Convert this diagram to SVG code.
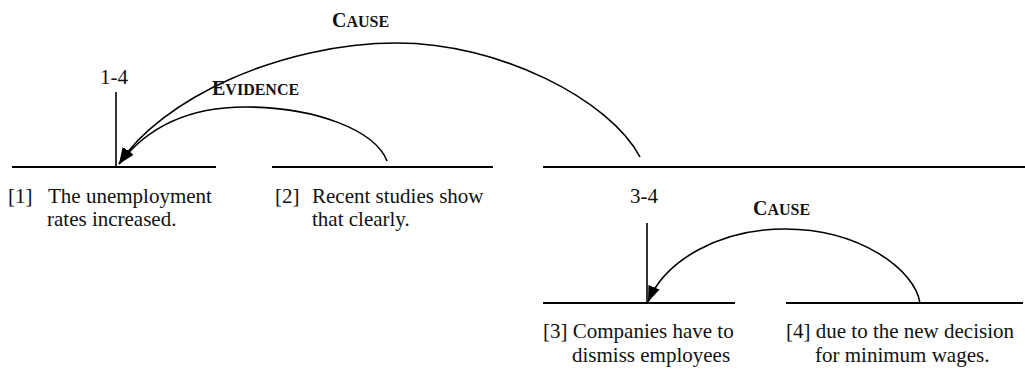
<svg xmlns="http://www.w3.org/2000/svg" width="1025" height="370" viewBox="0 0 1025 370">
<style>
.seg{stroke:#000;stroke-width:2;fill:none}
.vl{stroke:#000;stroke-width:1.6;fill:none}
.arc{stroke:#000;stroke-width:1.6;fill:none;marker-end:url(#ah)}
.t{font-family:"Liberation Serif","Times New Roman",serif;font-size:21px;fill:#111}
.rel{font-family:"Liberation Serif","Times New Roman",serif;font-size:20px;font-weight:bold;fill:#111}
.sc{font-size:16px}
</style>
<defs>
<marker id="ah" markerUnits="userSpaceOnUse" markerWidth="18" markerHeight="12" refX="16" refY="6" orient="auto">
<path d="M0,0 L16,6 L0,12 z" fill="#000"/>
</marker>
</defs>
<rect width="1025" height="370" fill="#fff"/>
<g id="span-1-4">
<text class="t" x="114" y="84" text-anchor="middle">1-4</text>
<line class="vl" x1="116" y1="92" x2="116" y2="167"/>
</g>
<g id="node-1">
<line class="seg" x1="12" y1="167" x2="216" y2="167"/>
<text class="t" y="203"><tspan x="8">[1]</tspan><tspan x="48">The unemployment</tspan></text>
<text class="t" x="47" y="226">rates increased.</text>
</g>
<g id="node-2">
<line class="seg" x1="272" y1="167" x2="493" y2="167"/>
<text class="t" y="203"><tspan x="275">[2]</tspan><tspan x="312">Recent studies show</tspan></text>
<text class="t" x="312" y="226">that clearly.</text>
</g>
<g id="span-3-4">
<line class="seg" x1="543" y1="167" x2="1025" y2="167"/>
<text class="t" x="644" y="203" text-anchor="middle">3-4</text>
<line class="vl" x1="647" y1="223" x2="647" y2="303"/>
</g>
<g id="node-3">
<line class="seg" x1="543" y1="303" x2="735" y2="303"/>
<text class="t" x="543" y="338">[3] Companies have to</text>
<text class="t" x="572" y="362">dismiss employees</text>
</g>
<g id="node-4">
<line class="seg" x1="786" y1="303" x2="1023" y2="303"/>
<text class="t" x="786" y="338">[4] due to the new decision</text>
<text class="t" x="815" y="362">for minimum wages.</text>
</g>
<g id="connectors">
<path class="arc" d="M640,157 C610,100 500,43 397,43 C280,43 160,100 119,164"/>
<path class="arc" d="M387,161 C375,130 315,107 245,107 C185,107 145,130 119,164"/>
<path class="arc" d="M920,303 C915,270 860,229 785,229 C720,229 665,260 648,302"/>
<text class="rel" x="332" y="27">C<tspan class="sc">AUSE</tspan></text>
<text class="rel" x="212" y="95">E<tspan class="sc">VIDENCE</tspan></text>
<text class="rel" x="753" y="215">C<tspan class="sc">AUSE</tspan></text>
</g>
</svg>
